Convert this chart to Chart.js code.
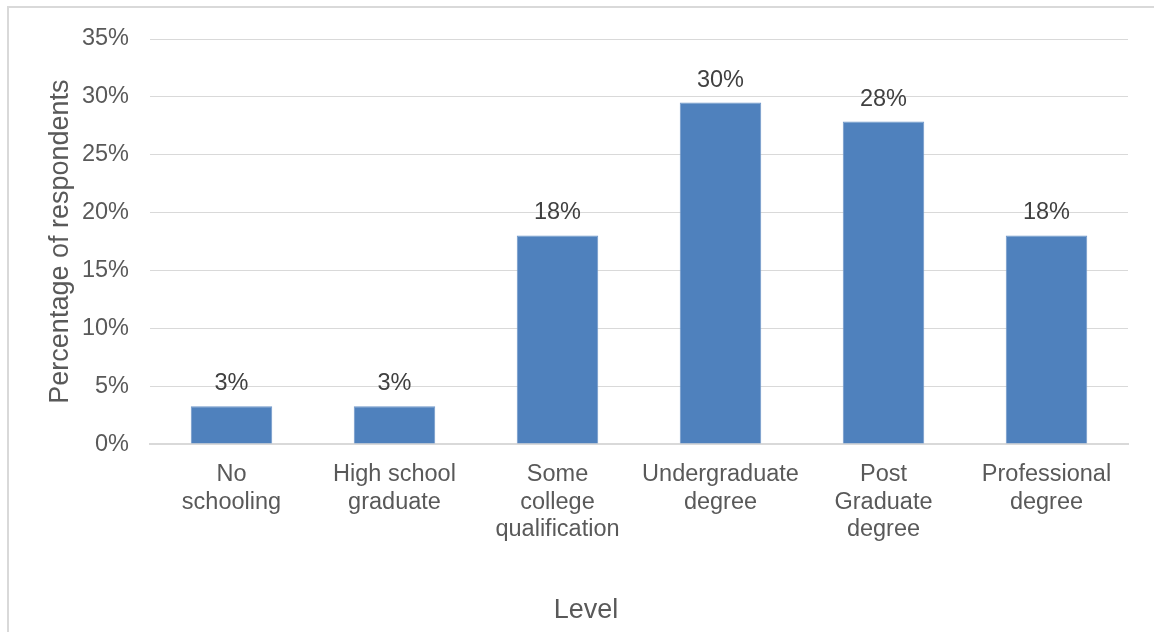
<!DOCTYPE html>
<html>
<head>
<meta charset="utf-8">
<script src="https://cdn.jsdelivr.net/npm/chart.js@4.4.0/dist/chart.umd.min.js"></script>
<style>
  html, body { margin: 0; padding: 0; background: #fff; overflow: hidden; }
  #wrap { position: relative; width: 1154px; height: 632px; }
  #frame { position: absolute; left: 7px; top: 6px; width: 1200px; height: 700px; border: 2px solid #d9d9d9; box-sizing: border-box; }
  #levelChart { position: absolute; left: 0; top: 0; }
</style>
</head>
<body>
<div id="wrap">
  <div id="frame"></div>
  <canvas id="levelChart" width="1154" height="632"></canvas>
</div>
<script>
const categories = [
  ["No", "schooling"],
  ["High school", "graduate"],
  ["Some", "college", "qualification"],
  ["Undergraduate", "degree"],
  ["Post", "Graduate", "degree"],
  ["Professional", "degree"]
];
const shares = [3.28, 3.28, 18.03, 29.51, 27.87, 18.03];
const yTicks = [0, 5, 10, 15, 20, 25, 30, 35];

const textColor = "#595959";
const fontFamily = "'Liberation Sans', Arial, sans-serif";
const tickSize = 23.5;
const titleSize = 27;

// labels above bars, like the spreadsheet data labels
const barLabels = {
  id: "barLabels",
  afterDatasetsDraw(chart) {
    const { ctx } = chart;
    const meta = chart.getDatasetMeta(0);
    ctx.save();
    ctx.font = `${tickSize}px ${fontFamily}`;
    ctx.fillStyle = "#404040";
    ctx.textAlign = "center";
    ctx.textBaseline = "alphabetic";
    meta.data.forEach((bar, i) => {
      ctx.fillText(Math.round(shares[i]) + "%", bar.x, bar.y - 16);
    });
    ctx.restore();
  }
};

new Chart(document.getElementById("levelChart"), {
  type: "bar",
  data: {
    labels: categories,
    datasets: [{
      data: shares,
      backgroundColor: "#4f81bd",
      borderColor: "#6f97c9",
      borderWidth: 1,
      categoryPercentage: 1,
      barPercentage: 0.5
    }]
  },
  options: {
    responsive: false,
    animation: false,
    layout: { padding: { left: 44, right: 26, top: 39, bottom: 5 } },
    plugins: {
      legend: { display: false },
      tooltip: { enabled: false },
      // axis title sits centred on the whole chart, not the plot area
      title: {
        display: true,
        position: "bottom",
        text: "Level",
        color: textColor,
        font: { size: titleSize, family: fontFamily, weight: "normal" },
        padding: { top: 34, bottom: 0 }
      }
    },
    scales: {
      y: {
        min: 0,
        max: 35,
        afterBuildTicks: (axis) => { axis.ticks = yTicks.map(v => ({ value: v })); },
        afterFit: (axis) => { axis.width = 106; },
        ticks: {
          color: textColor,
          font: { size: tickSize, family: fontFamily },
          padding: 21,
          callback: (value) => value + "%"
        },
        grid: { color: "#d9d9d9", lineWidth: 1, drawTicks: false },
        border: { display: false },
        title: {
          display: true,
          text: "Percentage of respondents",
          color: textColor,
          font: { size: titleSize, family: fontFamily },
          padding: { top: 0, bottom: 6 }
        }
      },
      x: {
        ticks: {
          color: textColor,
          font: { size: tickSize, family: fontFamily, lineHeight: 1.17 },
          padding: 17,
          maxRotation: 0,
          minRotation: 0,
          autoSkip: false
        },
        grid: { display: false, drawTicks: false },
        border: { display: true, color: "#d9d9d9", width: 2 }
      }
    }
  },
  plugins: [barLabels]
});
</script>
</body>
</html>
